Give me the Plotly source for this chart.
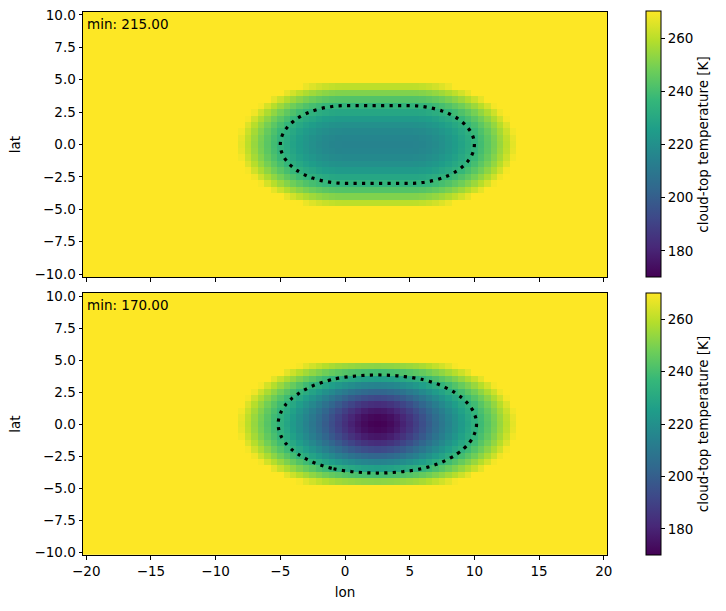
import numpy as np
import plotly.graph_objects as go

# ---- grid (cell centres, 0.5 deg spacing) ----
lon = np.arange(-20.0, 20.0 + 0.25, 0.5)
lat = np.arange(-10.0, 10.0 + 0.25, 0.5)

# ---- field parameters ----
t_background = 270.0          # clear-sky value (K)
ctt_threshold = 235.0         # dotted contour level (K)

# top panel: elongated cloud (stadium along lat 0, lon 0..5)
top_min = 215.0
top_seg_lon = [0.0, 5.0]      # core segment end points
top_semi_axes = [5.0, 3.0]    # lon, lat half-widths of the 235 K contour

# bottom panel: same cloud plus a deeper core centred at lon 2.5
bot_min = 170.0
bot_center = [2.5, 0.0]
bot_core_width = [4.1, 3.4]   # lon, lat e-folding widths of the deep core

tick_lon = [-20, -15, -10, -5, 0, 5, 10, 15, 20]
tick_lat = [-10.0, -7.5, -5.0, -2.5, 0.0, 2.5, 5.0, 7.5, 10.0]
tick_cb = [180, 200, 220, 240, 260]

X, Y = np.meshgrid(lon, lat)

dx = X - np.clip(X, top_seg_lon[0], top_seg_lon[1])
r2 = (dx / top_semi_axes[0]) ** 2 + (Y / top_semi_axes[1]) ** 2
z_top = np.minimum(t_background, top_min + (ctt_threshold - top_min) * r2)

core_depth = top_min - bot_min
g = np.exp(-((X - bot_center[0]) / bot_core_width[0]) ** 2
           - ((Y - bot_center[1]) / bot_core_width[1]) ** 2)
z_bot = np.where(z_top < t_background, z_top - core_depth * g, t_background)

W, H = 726, 611
FONT = dict(family="DejaVu Sans", size=13.5, color="black")

x_dom = [83 / W, 607 / W]
top_dom = [1 - 277.3 / H, 1 - 11.7 / H]
bot_dom = [1 - 555.2 / H, 1 - 292.8 / H]

fig = go.Figure()

panels = [(z_top, "x", "y", top_dom), (z_bot, "x2", "y2", bot_dom)]
for i, (z, xa, ya, dom) in enumerate(panels):
    fig.add_trace(go.Heatmap(
        x=lon, y=lat, z=z, xaxis=xa, yaxis=ya,
        colorscale="Viridis", zmin=170, zmax=270,
        colorbar=dict(
            x=646 / W, xanchor="left", xpad=0,
            y=(dom[0] + dom[1]) / 2, yanchor="middle", ypad=0,
            len=dom[1] - dom[0], lenmode="fraction",
            thickness=15, outlinewidth=1, outlinecolor="black",
            tickvals=tick_cb, ticks="outside", ticklen=4, tickwidth=0.8,
            tickcolor="black", tickfont=FONT,
            title=dict(text="cloud-top temperature [K]", side="right", font=FONT),
        ),
        hoverinfo="skip",
    ))
    fig.add_trace(go.Contour(
        x=lon, y=lat, z=z, xaxis=xa, yaxis=ya,
        contours=dict(start=ctt_threshold, end=ctt_threshold, size=1, coloring="none"),
        line=dict(color="black", width=3.2, dash="3.2px,5.3px"),
        showscale=False, hoverinfo="skip",
    ))
    fig.add_annotation(
        text=f"min: {z.min():.2f}", xref=f"{xa} domain", yref=f"{ya} domain",
        x=0.004, y=0.99, xanchor="left", yanchor="top", showarrow=False,
        font=FONT,
    )

axis_common = dict(
    showline=True, linecolor="black", linewidth=1, mirror=True,
    ticks="outside", ticklen=3.5, tickwidth=0.8, tickcolor="black",
    showgrid=False, zeroline=False, tickfont=FONT, automargin=False,
)

fig.update_layout(
    width=W, height=H,
    margin=dict(l=0, r=0, t=0, b=0),
    paper_bgcolor="white", plot_bgcolor="white",
    font=FONT, showlegend=False,
    xaxis=dict(domain=x_dom, range=[-20.25, 20.25], anchor="y",
               tickvals=tick_lon, showticklabels=False, **axis_common),
    yaxis=dict(domain=top_dom, range=[-10.25, 10.25], anchor="x",
               tickvals=tick_lat, tickformat=".1f",
               title=dict(text="lat", font=FONT, standoff=10), **axis_common),
    xaxis2=dict(domain=x_dom, range=[-20.25, 20.25], anchor="y2",
                tickvals=tick_lon,
                title=dict(text="lon", font=FONT, standoff=9), **axis_common),
    yaxis2=dict(domain=bot_dom, range=[-10.25, 10.25], anchor="x2",
                tickvals=tick_lat, tickformat=".1f",
                title=dict(text="lat", font=FONT, standoff=10), **axis_common),
)

fig.write_html("out.html")
